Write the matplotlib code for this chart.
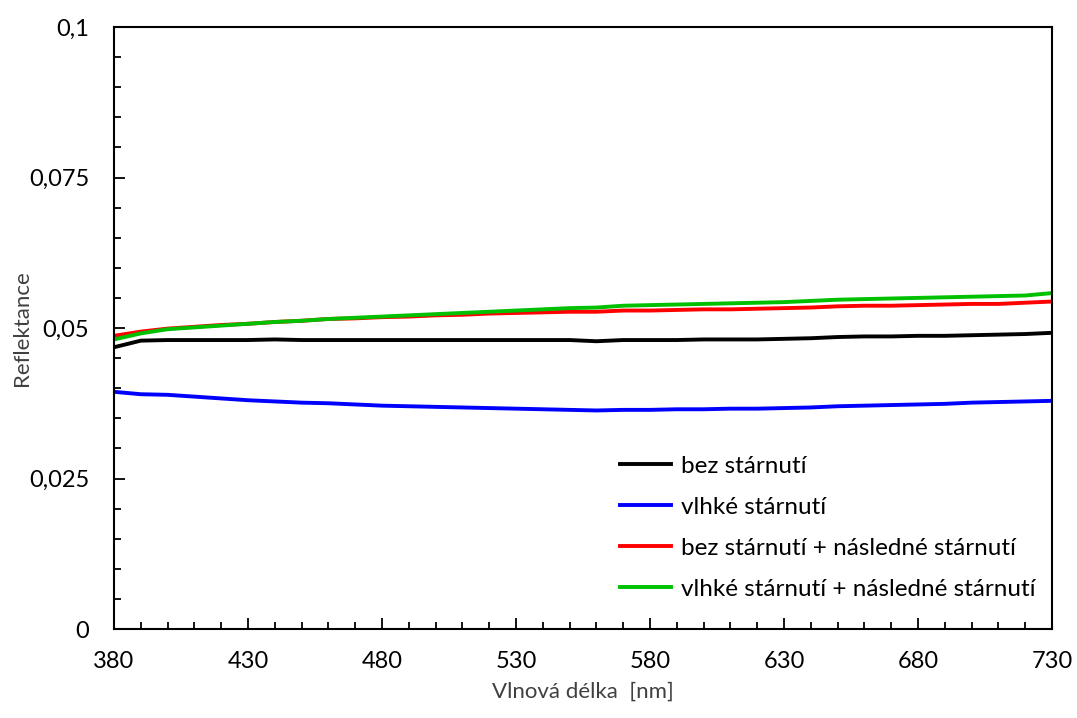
import numpy as np
import matplotlib
matplotlib.use("Agg")
import matplotlib.pyplot as plt
from matplotlib.ticker import MultipleLocator, FixedLocator, FixedFormatter

plt.rcParams['font.family'] = ['Lato', 'DejaVu Sans']

# vlnova delka [nm]
nm = list(range(380, 731, 10))

bez = [0.0468, 0.0479, 0.0480, 0.0480, 0.0480, 0.0480, 0.0481, 0.0480, 0.0480, 0.0480,
       0.0480, 0.0480, 0.0480, 0.0480, 0.0480, 0.0480, 0.0480, 0.0480, 0.0478, 0.0480,
       0.0480, 0.0480, 0.0481, 0.0481, 0.0481, 0.0482, 0.0483, 0.0485, 0.0486, 0.0486,
       0.0487, 0.0487, 0.0488, 0.0489, 0.0490, 0.0492]
vlhke = [0.0394, 0.0390, 0.0389, 0.0386, 0.0383, 0.0380, 0.0378, 0.0376, 0.0375, 0.0373,
         0.0371, 0.0370, 0.0369, 0.0368, 0.0367, 0.0366, 0.0365, 0.0364, 0.0363, 0.0364,
         0.0364, 0.0365, 0.0365, 0.0366, 0.0366, 0.0367, 0.0368, 0.0370, 0.0371, 0.0372,
         0.0373, 0.0374, 0.0376, 0.0377, 0.0378, 0.0379]
bez_nasl = [0.0487, 0.0494, 0.0499, 0.0502, 0.0505, 0.0507, 0.0510, 0.0512, 0.0515, 0.0516,
            0.0518, 0.0519, 0.0521, 0.0522, 0.0524, 0.0525, 0.0526, 0.0527, 0.0527, 0.0529,
            0.0529, 0.0530, 0.0531, 0.0531, 0.0532, 0.0533, 0.0534, 0.0536, 0.0537, 0.0537,
            0.0538, 0.0539, 0.0540, 0.0540, 0.0542, 0.0544]
vlhke_nasl = [0.0481, 0.0491, 0.0498, 0.0501, 0.0504, 0.0507, 0.0510, 0.0512, 0.0515, 0.0517,
              0.0519, 0.0521, 0.0523, 0.0525, 0.0527, 0.0529, 0.0531, 0.0533, 0.0534, 0.0537,
              0.0538, 0.0539, 0.0540, 0.0541, 0.0542, 0.0543, 0.0545, 0.0547, 0.0548, 0.0549,
              0.0550, 0.0551, 0.0552, 0.0553, 0.0554, 0.0558]

labels = ['bez stárnutí', 'vlhké stárnutí', 'bez stárnutí + následné stárnutí',
          'vlhké stárnutí + následné stárnutí']
colors = ['black', '#0000ff', '#ff0000', '#00c000']

y_ticks = [0, 0.025, 0.05, 0.075, 0.1]
y_ticklabels = ['0', '0,025', '0,05', '0,075', '0,1']
x_ticks = [380, 430, 480, 530, 580, 630, 680, 730]

fig = plt.figure(figsize=(10.77, 7.18), dpi=100)
ax = fig.add_axes([114/1077, 1-629/718, (1052-114)/1077, (629-27)/718])

for ys, lab, c in zip([bez, vlhke, bez_nasl, vlhke_nasl], labels, colors):
    ax.plot(nm, ys, color=c, lw=2.8, label=lab)

ax.set_xlim(380, 730)
ax.set_ylim(0, 0.1)
ax.xaxis.set_major_locator(FixedLocator(x_ticks))
ax.xaxis.set_minor_locator(MultipleLocator(10))
ax.yaxis.set_major_locator(FixedLocator(y_ticks))
ax.yaxis.set_major_formatter(FixedFormatter(y_ticklabels))
ax.yaxis.set_minor_locator(MultipleLocator(0.005))

ax.tick_params(which='both', direction='in', colors='black', width=1.3, labelsize=17)
ax.tick_params(which='major', length=8)
ax.tick_params(which='minor', length=5)
ax.tick_params(axis='x', pad=16)
ax.tick_params(axis='y', pad=18)
for s in ax.spines.values():
    s.set_linewidth(1.5)
    s.set_color('black')

ax.set_xlabel('Vlnová délka  [nm]', fontsize=16, color='#404040', labelpad=7)
ax.set_ylabel('Reflektance', fontsize=16, color='#404040')
ax.yaxis.set_label_coords(-0.087, 0.5)

ax.legend(loc='upper left', bbox_to_anchor=(598/1077, 1-434/718),
          bbox_transform=fig.transFigure, frameon=False, fontsize=17.5,
          handlelength=2.1, handletextpad=0.4, labelspacing=0.82)

fig.savefig('out.png', dpi=100)
